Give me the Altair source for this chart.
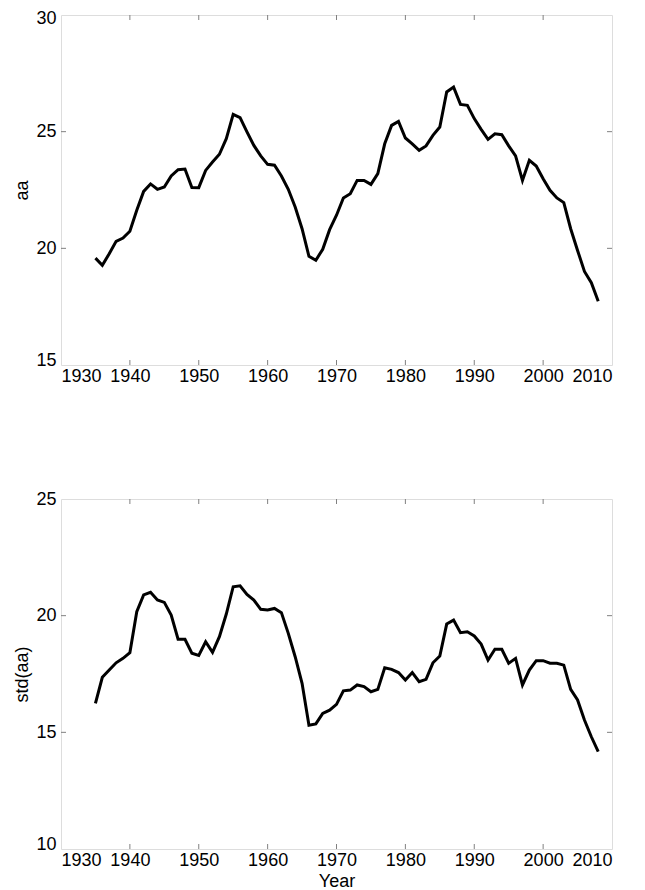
import altair as alt
import pandas as pd

years = list(range(1935, 2009))

aa = [19.58, 19.27, 19.77, 20.30, 20.44, 20.73, 21.63, 22.44, 22.76, 22.53,
      22.63, 23.10, 23.37, 23.40, 22.61, 22.60, 23.34, 23.70, 24.03, 24.70,
      25.74, 25.60, 24.99, 24.41, 23.96, 23.60, 23.56, 23.10, 22.53, 21.77,
      20.84, 19.66, 19.49, 19.96, 20.80, 21.42, 22.16, 22.34, 22.91, 22.91,
      22.74, 23.20, 24.48, 25.27, 25.44, 24.73, 24.48, 24.20, 24.39, 24.84,
      25.20, 26.70, 26.91, 26.17, 26.13, 25.56, 25.10, 24.67, 24.91, 24.87,
      24.39, 23.96, 22.91, 23.77, 23.53, 22.98, 22.49, 22.16, 21.96, 20.84,
      19.91, 19.01, 18.53, 17.73]

std_aa = [16.24, 17.36, 17.67, 17.98, 18.17, 18.41, 20.17, 20.89, 21.00, 20.67,
          20.57, 20.03, 18.99, 18.99, 18.39, 18.30, 18.88, 18.43, 19.10, 20.07,
          21.24, 21.28, 20.91, 20.67, 20.27, 20.24, 20.31, 20.13, 19.24, 18.24,
          17.10, 15.30, 15.36, 15.81, 15.95, 16.20, 16.78, 16.81, 17.03, 16.96,
          16.74, 16.84, 17.77, 17.70, 17.56, 17.24, 17.56, 17.17, 17.27, 17.98,
          18.27, 19.64, 19.81, 19.27, 19.31, 19.13, 18.78, 18.10, 18.56, 18.56,
          17.96, 18.17, 17.03, 17.67, 18.07, 18.07, 17.96, 17.96, 17.88, 16.84,
          16.39, 15.53, 14.81, 14.17]

x_ticks = list(range(1930, 2011, 10))
inner_x_ticks = list(range(1940, 2001, 10))
top_y_ticks = [15, 20, 25, 30]
bot_y_ticks = [10, 15, 20, 25]

W, H = 551, 350
FONT = "Liberation Sans"
FS = 18
FRAME = "#808080"


def panel(values, ylabel, ydomain, yticks, xtitle, top_offset):
    df = pd.DataFrame({"year": years, "value": values})
    xscale = alt.Scale(domain=[1930, 2010], nice=False, zero=False)
    yscale = alt.Scale(domain=ydomain, nice=False, zero=False)
    xaxis = alt.Axis(values=x_ticks, format="d", domain=False, ticks=False, grid=False,
                     labelFont=FONT, labelFontSize=FS, labelColor="black", labelPadding=2,
                     title=xtitle if xtitle else None, titleFont=FONT, titleFontSize=FS,
                     titleFontWeight="normal", titleColor="black", titlePadding=3)
    yaxis = alt.Axis(values=yticks, domain=False, ticks=False, grid=False,
                     labelFont=FONT, labelFontSize=FS, labelColor="black", labelPadding=5,
                     labelBaseline={"condition": {"test": f"datum.value == {ydomain[0]}",
                                                  "value": "alphabetic"},
                                    "value": "middle"},
                     labelOffset={"condition": {"test": f"datum.value == {ydomain[1]}",
                                                "value": top_offset},
                                  "value": 0},
                     title=ylabel, titleFont=FONT, titleFontSize=FS,
                     titleFontWeight="normal", titleColor="black", titlePadding=4)
    X = alt.X("year:Q", scale=xscale, axis=xaxis)
    Y = alt.Y("value:Q", scale=yscale, axis=yaxis)
    line = alt.Chart(df).mark_line(color="black", strokeWidth=3).encode(x=X, y=Y)
    xt = pd.DataFrame({"year": inner_x_ticks})
    inner_y = [v for v in yticks if v not in (ydomain[0], ydomain[1])]
    yt = pd.DataFrame({"value": inner_y})
    tb = alt.Chart(xt).mark_rule(color=FRAME, strokeWidth=1).encode(
        x=X, y=alt.value(H), y2=alt.value(H - 5))
    tt = alt.Chart(xt).mark_rule(color=FRAME, strokeWidth=1).encode(
        x=X, y=alt.value(0), y2=alt.value(5))
    tl = alt.Chart(yt).mark_rule(color=FRAME, strokeWidth=1).encode(
        y=Y, x=alt.value(0), x2=alt.value(5))
    tr = alt.Chart(yt).mark_rule(color=FRAME, strokeWidth=1).encode(
        y=Y, x=alt.value(W), x2=alt.value(W - 5))
    return alt.layer(line, tb, tt, tl, tr).properties(width=W, height=H)


top = panel(aa, "aa", [15, 30], top_y_ticks, None, 3)
bottom = panel(std_aa, "std(aa)", [10, 25], bot_y_ticks, "Year", 0)

chart = alt.vconcat(top, bottom, spacing=103).properties(
    padding={"left": 5, "top": 0, "right": 0, "bottom": 0}
).configure_view(stroke=FRAME, strokeWidth=1).configure(background="white")

chart.save("out.html", embed_options={"renderer": "svg", "actions": False})
